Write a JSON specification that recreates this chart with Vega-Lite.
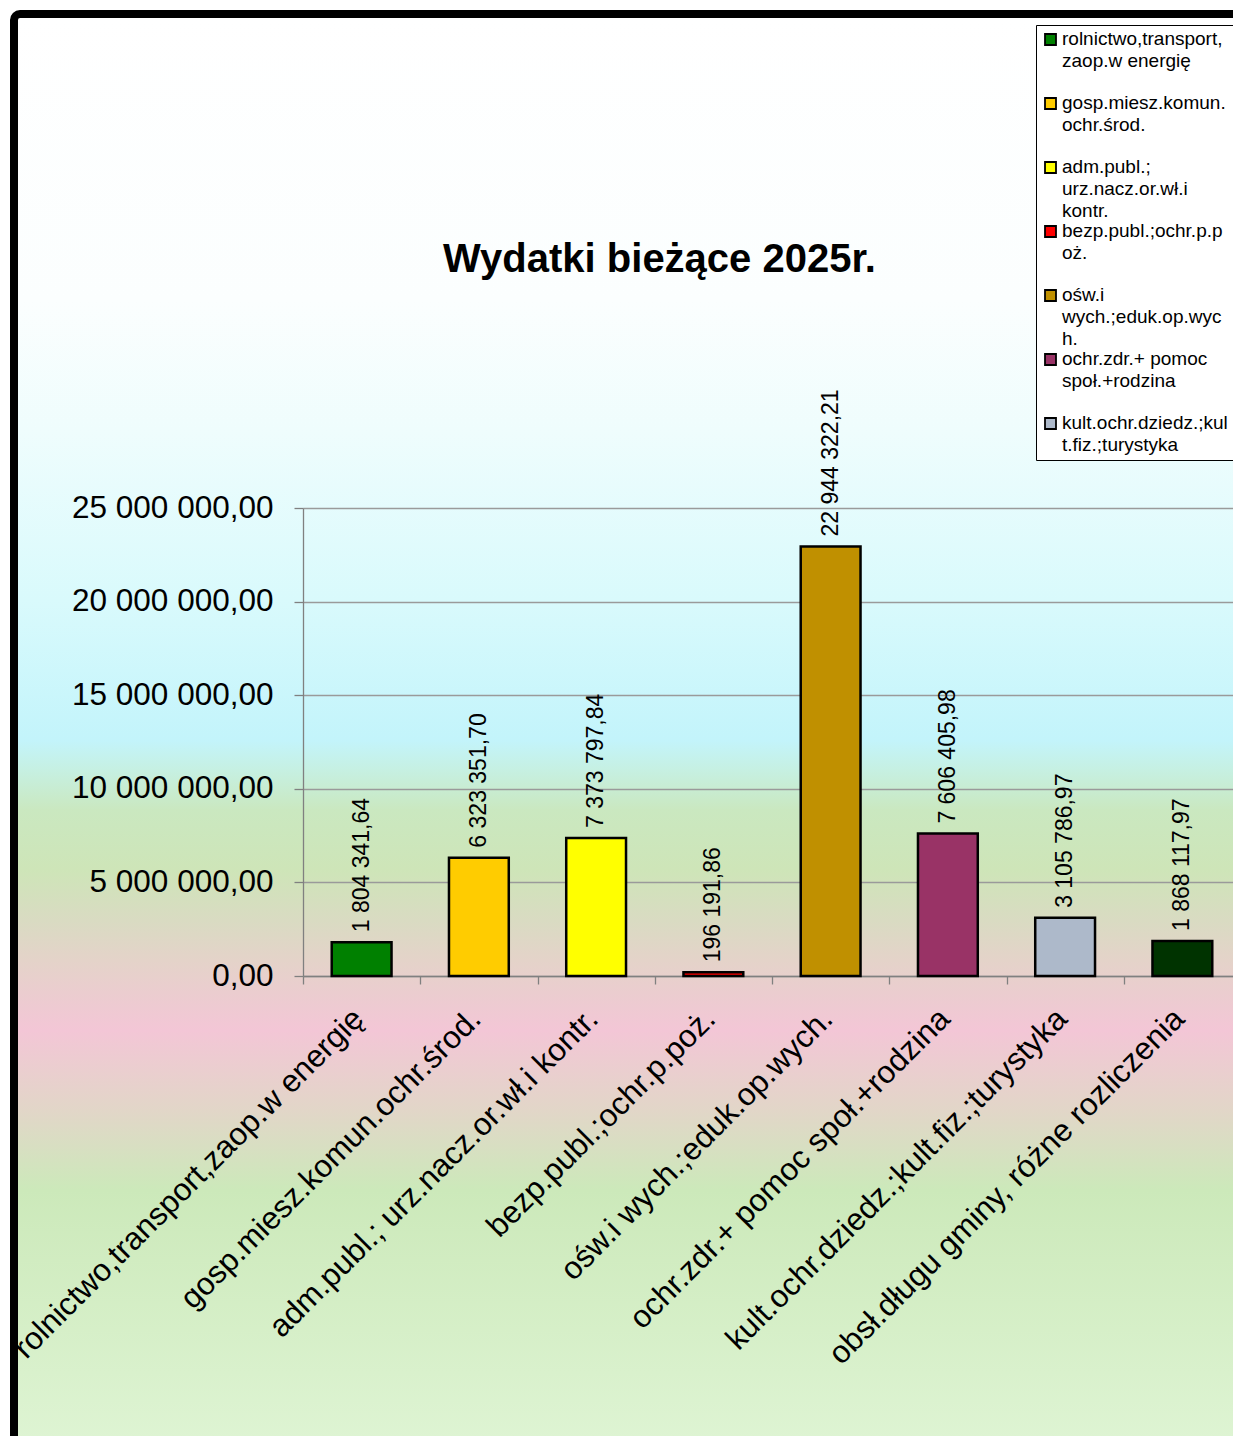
{
  "$schema": "https://vega.github.io/schema/vega-lite/v6.json",
  "width": 1225,
  "height": 1428,
  "autosize": {"type": "none"},
  "padding": {"left": 14, "top": 14, "right": -6, "bottom": -6},
  "background": "white",
  "title": {
    "text": "Wydatki bieżące 2025r.",
    "fontSize": 40,
    "fontWeight": "bold",
    "color": "black",
    "anchor": "middle",
    "frame": "group",
    "offset": -298,
    "dx": 33,
    "baseline": "alphabetic"
  },
  "data": {
    "values": [
      {"kategoria": "rolnictwo,transport,zaop.w energię", "legenda": "rolnictwo,transport,\nzaop.w energię", "wartosc": 1804341.64},
      {"kategoria": "gosp.miesz.komun.ochr.środ.", "legenda": "gosp.miesz.komun.\nochr.środ.", "wartosc": 6323351.70},
      {"kategoria": "adm.publ.; urz.nacz.or.wł.i kontr.", "legenda": "adm.publ.;\nurz.nacz.or.wł.i\nkontr.", "wartosc": 7373797.84},
      {"kategoria": "bezp.publ.;ochr.p.poż.", "legenda": "bezp.publ.;ochr.p.p\noż.", "wartosc": 196191.86},
      {"kategoria": "ośw.i wych.;eduk.op.wych.", "legenda": "ośw.i\nwych.;eduk.op.wyc\nh.", "wartosc": 22944322.21},
      {"kategoria": "ochr.zdr.+ pomoc społ.+rodzina", "legenda": "ochr.zdr.+ pomoc\nspoł.+rodzina", "wartosc": 7606405.98},
      {"kategoria": "kult.ochr.dziedz.;kult.fiz.;turystyka", "legenda": "kult.ochr.dziedz.;kul\nt.fiz.;turystyka", "wartosc": 3105786.97},
      {"kategoria": "obsł.długu gminy, różne rozliczenia", "legenda": "obsł.długu gminy,\nróżne rozliczenia", "wartosc": 1868117.97}
    ]
  },
  "encoding": {
    "x": {
      "field": "kategoria",
      "type": "nominal",
      "sort": null,
      "scale": {"range": [289, 1227], "paddingInner": 0.49, "paddingOuter": 0.245},
      "axis": {
        "title": null,
        "orient": "bottom",
        "offset": -466,
        "labelAngle": -45,
        "labelAlign": "right",
        "labelBaseline": "middle",
        "labelFontSize": 31.5,
        "labelColor": "black",
        "labelPadding": 30,
        "labelLimit": 0,
        "labelOverlap": false,
        "tickOffset": -58.6,
        "labelOffset": 55.6,
        "tickSize": 8,
        "tickColor": "#808080",
        "tickWidth": 1.3,
        "domainColor": "#808080",
        "domainWidth": 1.3,
        "grid": false
      }
    },
    "y": {
      "field": "wartosc",
      "type": "quantitative",
      "scale": {"domain": [0, 25000000], "range": [962, 494], "nice": false},
      "axis": {
        "title": null,
        "orient": "left",
        "offset": -289,
        "values": [0, 5000000, 10000000, 15000000, 20000000, 25000000],
        "format": ",.2f",
        "labelFontSize": 31.5,
        "labelColor": "black",
        "labelPadding": 21,
        "labelLimit": 0,
        "tickSize": 9,
        "tickColor": "#808080",
        "tickWidth": 1.3,
        "domainColor": "#808080",
        "domainWidth": 1.3,
        "grid": true,
        "gridColor": "#9a9a9a",
        "gridWidth": 1.3
      }
    }
  },
  "layer": [
    {
      "mark": {"type": "bar", "stroke": "black", "strokeWidth": 2.5},
      "encoding": {
        "color": {
          "field": "legenda",
          "type": "nominal",
          "scale": {
            "domain": [
              "rolnictwo,transport,\nzaop.w energię",
              "gosp.miesz.komun.\nochr.środ.",
              "adm.publ.;\nurz.nacz.or.wł.i\nkontr.",
              "bezp.publ.;ochr.p.p\noż.",
              "ośw.i\nwych.;eduk.op.wyc\nh.",
              "ochr.zdr.+ pomoc\nspoł.+rodzina",
              "kult.ochr.dziedz.;kul\nt.fiz.;turystyka",
              "obsł.długu gminy,\nróżne rozliczenia"
            ],
            "range": ["#008000", "#ffcc00", "#ffff00", "#ff0000", "#c09000", "#993366", "#adb9ca", "#003300"]
          },
          "legend": {
            "title": null,
            "orient": "none",
            "legendX": 1022,
            "legendY": 11,
            "values": [
              "rolnictwo,transport,\nzaop.w energię",
              "gosp.miesz.komun.\nochr.środ.",
              "adm.publ.;\nurz.nacz.or.wł.i\nkontr.",
              "bezp.publ.;ochr.p.p\noż.",
              "ośw.i\nwych.;eduk.op.wyc\nh.",
              "ochr.zdr.+ pomoc\nspoł.+rodzina",
              "kult.ochr.dziedz.;kul\nt.fiz.;turystyka"
            ],
            "labelExpr": "split(datum.label, '\\n')",
            "labelFontSize": 19,
            "labelColor": "black",
            "labelLimit": 0,
            "labelOffset": 2,
            "labelBaseline": "top",
            "symbolType": "square",
            "symbolSize": 121,
            "symbolStrokeColor": "black",
            "symbolStrokeWidth": 1.8,
            "symbolOpacity": 1,
            "fillColor": "white",
            "strokeColor": "black",
            "padding": 5,
            "rowPadding": 0,
            "gridAlign": "all",
            "encode": {
              "labels": {"update": {"dy": {"value": -10}, "lineHeight": {"value": 22}}}
            }
          }
        }
      }
    },
    {
      "mark": {"type": "text", "angle": 270, "align": "left", "baseline": "middle", "dx": 10, "fontSize": 23, "color": "black"},
      "encoding": {
        "text": {"field": "wartosc", "type": "quantitative", "format": ",.2f"}
      }
    }
  ],
  "config": {
    "font": "Liberation Sans",
    "locale": {
      "number": {"decimal": ",", "thousands": " ", "grouping": [3], "currency": ["", " zł"]}
    },
    "view": {
      "stroke": "black",
      "strokeWidth": 8,
      "cornerRadius": 6,
      "fill": {
        "gradient": "linear",
        "x1": 0, "y1": 0, "x2": 0, "y2": 1,
        "stops": [
          {"offset": 0, "color": "#ffffff"},
          {"offset": 0.2003, "color": "#fbfefe"},
          {"offset": 0.2913, "color": "#effdfd"},
          {"offset": 0.4104, "color": "#d9fafc"},
          {"offset": 0.5084, "color": "#c3f4fb"},
          {"offset": 0.5294, "color": "#c6f0e2"},
          {"offset": 0.5574, "color": "#cae8c0"},
          {"offset": 0.5994, "color": "#cee5b8"},
          {"offset": 0.6345, "color": "#d9dbc2"},
          {"offset": 0.6625, "color": "#e4d3c9"},
          {"offset": 0.7115, "color": "#f3c6d6"},
          {"offset": 0.7675, "color": "#e2d6c8"},
          {"offset": 0.8235, "color": "#cce9ba"},
          {"offset": 1, "color": "#def4d3"}
        ]
      }
    }
  }
}
